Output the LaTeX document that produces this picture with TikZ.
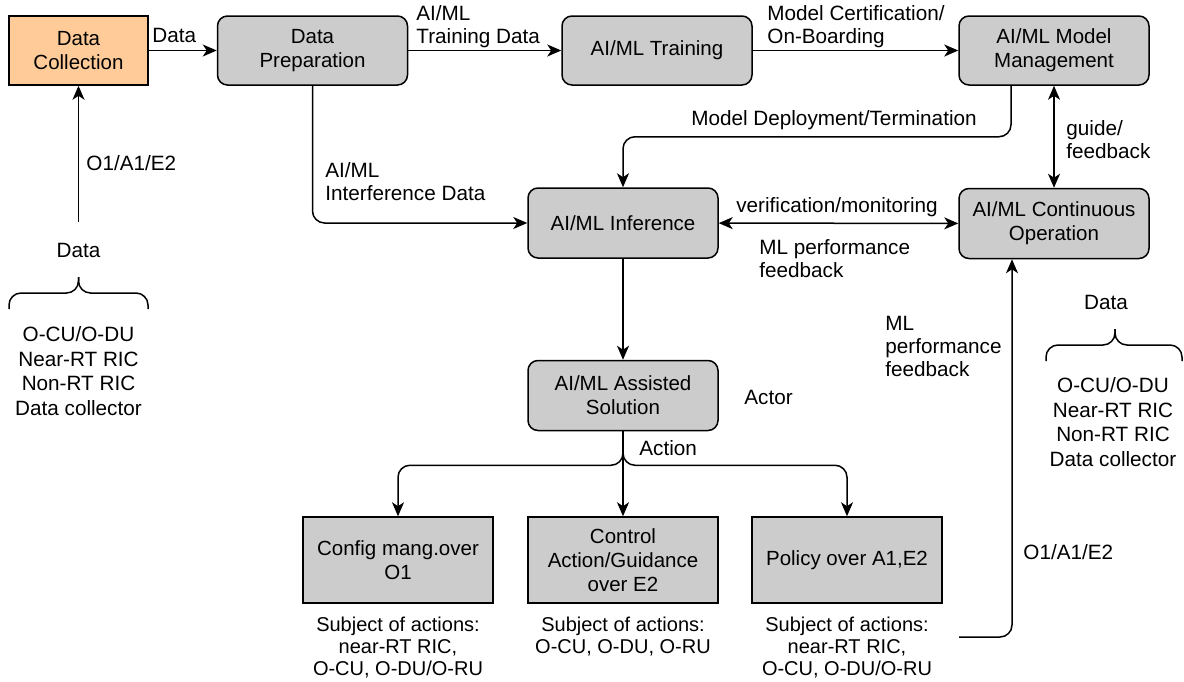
\documentclass[tikz,border=0pt]{standalone}
\usepackage{fontspec}
\setmainfont{Liberation Sans}
\usetikzlibrary{arrows.meta}
\definecolor{boxgray}{HTML}{CCCCCC}
\definecolor{collorange}{HTML}{FFCC99}

\begin{document}
\begin{tikzpicture}[x=0.5pt, y=-0.5pt,
		every node/.style={font=\fontsize{10.35}{11.5}\selectfont},
		box/.style={draw, line width=0.75pt, fill=boxgray, rounded corners=5pt,
			minimum width=95pt, minimum height=35pt, align=center, inner sep=0pt,
			font=\fontsize{10.25}{12}\selectfont},
		actbox/.style={box, sharp corners, minimum height=43pt},
		lbl/.style={align=left, inner sep=0pt},
		arr/.style={-{Stealth[length=7pt,width=6pt,inset=2pt]}, line width=0.75pt, rounded corners=6pt},
		arrboth/.style={arr, {Stealth[length=7pt,width=6pt,inset=2pt]}-{Stealth[length=7pt,width=6pt,inset=2pt]}},
		brace/.style={line width=0.75pt, rounded corners=6pt}]
			\useasboundingbox (0,0) rectangle (1184,681);

			% boxes on top row
			\node [box, sharp corners, fill=collorange, minimum width=69.5pt, minimum height=34.5pt] (coll) at (78.5,50.5) {Data\\Collection};
			\node [box, minimum height=34.5pt] (prep) at (312.5,50.5) {Data\\Preparation};
			\node [box, minimum height=34.5pt] (train) at (657,50.5) {AI/ML Training};
			\node [box, minimum height=34.5pt] (mgmt) at (1054,50.5) {AI/ML Model\\Management};

			% boxes in the middle
			\node [box] (infer) at (623,223) {AI/ML Inference};
			\node [box] (contop) at (1054,223.5) {AI/ML Continuous\\Operation};
			\node [box] (assist) at (623,395.5) {AI/ML Assisted\\Solution};

			% action boxes
			\node [actbox] (config) at (398,560) {Config mang.over\\O1};
			\node [actbox] (control) at (623,560) {Control\\Action/Guidance\\over E2};
			\node [actbox] (policy) at (847,560) {Policy over A1,E2};

			% free ends
			\coordinate (srcL) at (78.5,222);
			\coordinate (srcR) at (959,637);

			% connectors
			\draw [arr] (coll) -- (prep);
			\draw [arr] (prep) -- (train);
			\draw [arr] (train) -- (mgmt);
			\draw [arr] ([xshift=-21.5pt]mgmt.south) -- ++(0,51) -| (infer.north);
			\draw [arrboth] (mgmt) -- (contop);
			\draw [arrboth] (infer) -- (contop);
			\draw [arr] (prep.south) |- (infer.west);
			\draw [arr] (infer) -- (assist);
			\draw [arr] (assist) -- (control);
			\draw [arr] (assist.south) -- ++(0,34) -| (config.north);
			\draw [arr] (assist.south) -- ++(0,34) -| (policy.north);
			\draw [arr] (srcL) -- (coll);
			\draw [arr] (srcR) -| ([xshift=-21pt]contop.south);

			% connector labels
			\node [lbl, anchor=west] (lData) at (152,35) {Data};
			\node [lbl, anchor=west] (lTrain) at (416,27) {AI/ML\\Training Data};
			\node [lbl, anchor=west] (lCert) at (767,27) {Model Certification/\\On-Boarding};
			\node [lbl] (lDeploy) at (834,120) {Model Deployment/Termination};
			\node [lbl, anchor=west] (lGuide) at (1066,140) {guide/\\feedback};
			\node [lbl] (lVerif) at (837,207) {verification/monitoring};
			\node [lbl, anchor=west] (lPerf) at (759,259) {ML performance\\feedback};
			\node [lbl, anchor=west] (lInter) at (325,182) {AI/ML\\Interference Data};
			\node [lbl, anchor=west] (lOL) at (86,163) {O1/A1/E2};
			\node [lbl, anchor=west] (lAction) at (639,448) {Action};
			\node [lbl, anchor=west] (lActor) at (744,397) {Actor};
			\node [lbl, anchor=west] (lPerfR) at (885,346) {ML\\performance\\feedback};
			\node [lbl, anchor=west] (lOR) at (1023,552) {O1/A1/E2};

			% data sources on l
			\node [lbl] (dataL) at (78.5,250) {Data};
			\draw [brace] (9,309) -- (9,293) -- (78.5,293) -- (78.5,277);
			\draw [brace] (148,309) -- (148,293) -- (78.5,293) -- (78.5,277);
			\node [lbl, align=center, font=\fontsize{10.35}{12.2}\selectfont] (listL) at (78.5,371) {O-CU/O-DU\\Near-RT RIC\\Non-RT RIC\\Data collector};

			% data sources on r
			\node [lbl] (dataR) at (1106,302) {Data};
			\draw [brace] (1046,361) -- (1046,345) -- (1115,345) -- (1115,329);
			\draw [brace] (1182,361) -- (1182,345) -- (1115,345) -- (1115,329);
			\node [lbl, align=center, font=\fontsize{10.35}{12.2}\selectfont] (listR) at (1113,422) {O-CU/O-DU\\Near-RT RIC\\Non-RT RIC\\Data collector};

			% subjects of actions
			\node [lbl, align=center, font=\fontsize{10}{11}\selectfont] (subjA) at (398,648) {Subject of actions:\\near-RT RIC,\\O-CU, O-DU/O-RU};
			\node [lbl, align=center, font=\fontsize{10}{11}\selectfont] (subjB) at (623,637) {Subject of actions:\\O-CU, O-DU, O-RU};
			\node [lbl, align=center, font=\fontsize{10}{11}\selectfont] (subjC) at (847,648) {Subject of actions:\\near-RT RIC,\\O-CU, O-DU/O-RU};

\end{tikzpicture}
\end{document}
